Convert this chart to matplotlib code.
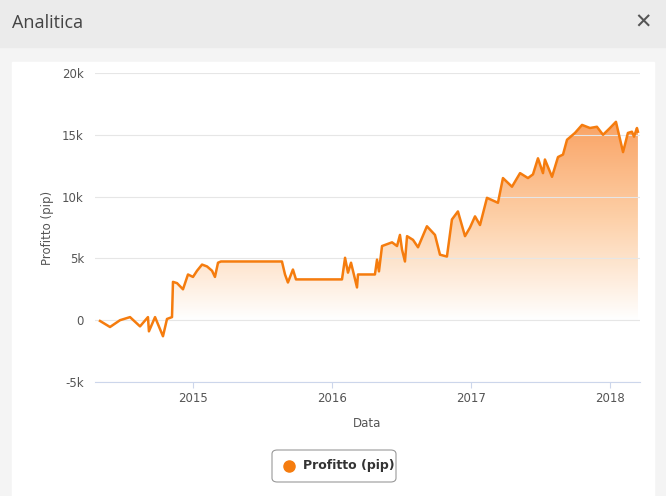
import matplotlib
matplotlib.use("Agg")
import matplotlib.pyplot as plt
import numpy as np
from matplotlib.patches import FancyBboxPatch, Rectangle
from matplotlib.colors import LinearSegmentedColormap

years = [2014.331,2014.403,2014.475,2014.547,2014.619,2014.676,2014.683,2014.727,2014.784,2014.813,
         2014.849,2014.856,2014.885,2014.928,2014.964,2015.0,2015.029,2015.065,2015.101,2015.137,
         2015.158,2015.180,2015.201,2015.640,2015.662,2015.683,2015.719,2015.741,2016.072,2016.094,
         2016.115,2016.137,2016.180,2016.187,2016.309,2016.324,2016.338,2016.360,2016.432,2016.468,
         2016.489,2016.504,2016.525,2016.540,2016.583,2016.619,2016.683,2016.741,2016.777,2016.827,
         2016.863,2016.906,2016.957,2016.993,2017.029,2017.065,2017.115,2017.194,2017.230,2017.295,
         2017.353,2017.410,2017.446,2017.482,2017.518,2017.532,2017.583,2017.626,2017.662,2017.691,
         2017.712,2017.748,2017.799,2017.856,2017.906,2017.950,2018.0,2018.043,2018.094,2018.129,
         2018.158,2018.173,2018.194,2018.201]
profit = [-60,-550,0,250,-500,250,-900,250,-1300,100,
          250,3100,3000,2500,3700,3500,4000,4500,4350,4000,
          3500,4650,4750,4750,3700,3050,4100,3300,3300,5050,
          3850,4650,2650,3700,3700,4900,3950,6000,6300,6000,
          6900,5700,4750,6800,6500,5900,7600,6900,5300,5150,
          8150,8800,6800,7500,8400,7700,9900,9500,11500,10800,
          11900,11500,11800,13100,11900,13000,11600,13200,13400,14600,
          14800,15150,15800,15550,15650,15000,15550,16050,13600,15150,
          15250,14850,15550,15250]
yticks = [-5000, 0, 5000, 10000, 15000, 20000]
ytick_labels = ["-5k", "0", "5k", "10k", "15k", "20k"]
xticks = [2015, 2016, 2017, 2018]
xtick_labels = ["2015", "2016", "2017", "2018"]

W, H = 666, 496
fig = plt.figure(figsize=(W/100, H/100), dpi=100)
fig.patch.set_facecolor("#f4f4f4")
# header
fig.add_artist(Rectangle((0, 1-47/H), 1, 47/H, transform=fig.transFigure, color="#ebebeb", zorder=0))
fig.text(12/W, 1-23/H, "Analitica", fontsize=13, color="#444444", va="center", family="Open Sans")
fig.text(643/W, 1-23/H, "✕", fontsize=15, color="#555555", va="center", ha="center")
# card
fig.add_artist(Rectangle((12/W, 0), 642/W, 1-62/H, transform=fig.transFigure, color="white", zorder=0))

ax = fig.add_axes([95/W, 1-382/H, 545/W, 309/H])
ax.set_facecolor("none")
ax.set_xlim(2014.295, 2018.216)
ax.set_ylim(-5000, 20000)
ax.set_yticks(yticks, ytick_labels)
ax.set_xticks(xticks, xtick_labels)
ax.grid(axis="y", color="#e6e6e6", lw=0.8)
for s in ["left", "right", "top"]:
    ax.spines[s].set_visible(False)
ax.spines["bottom"].set_color("#ccd6eb")
ax.tick_params(axis="y", length=0, labelsize=8.5, labelcolor="#555555", pad=8)
ax.tick_params(axis="x", length=4, color="#ccd6eb", labelsize=8.5, labelcolor="#555555")
ax.set_xlabel("Data", fontsize=8.5, color="#555555", labelpad=8)
ax.set_ylabel("Profitto (pip)", fontsize=8.5, color="#555555", labelpad=6)

x = np.array(years); y = np.array(profit)
cmap = LinearSegmentedColormap.from_list("g", ["#ffffff", "#fdd0a8", "#f9a060"])
grad = np.linspace(0, 1, 256).reshape(-1, 1)
im = ax.imshow(grad, extent=[x.min(), x.max(), 0, 16500], origin="lower", aspect="auto", cmap=cmap, zorder=1)
poly = ax.fill_between(x, y, 0, color="none")
clip = poly.get_paths()[0]
im.set_clip_path(clip, transform=ax.transData)
ax.plot(x, y, color="#f57c0e", lw=1.8, zorder=3)

# legend
lx, ly, lw_, lh = 272/W, 1-482/H, 124/W, 32/H
fig.add_artist(FancyBboxPatch((lx, ly), lw_, lh, boxstyle="round,pad=0,rounding_size=0.008",
               transform=fig.transFigure, fc="white", ec="#999999", lw=0.8))
fig.add_artist(plt.Line2D([289/W], [1-466/H], marker="o", color="#f57c0e", markersize=8, transform=fig.transFigure))
fig.text(303/W, 1-466/H, "Profitto (pip)", fontsize=9, fontweight="bold", color="#333333", va="center")

fig.savefig("out.png", dpi=100)
